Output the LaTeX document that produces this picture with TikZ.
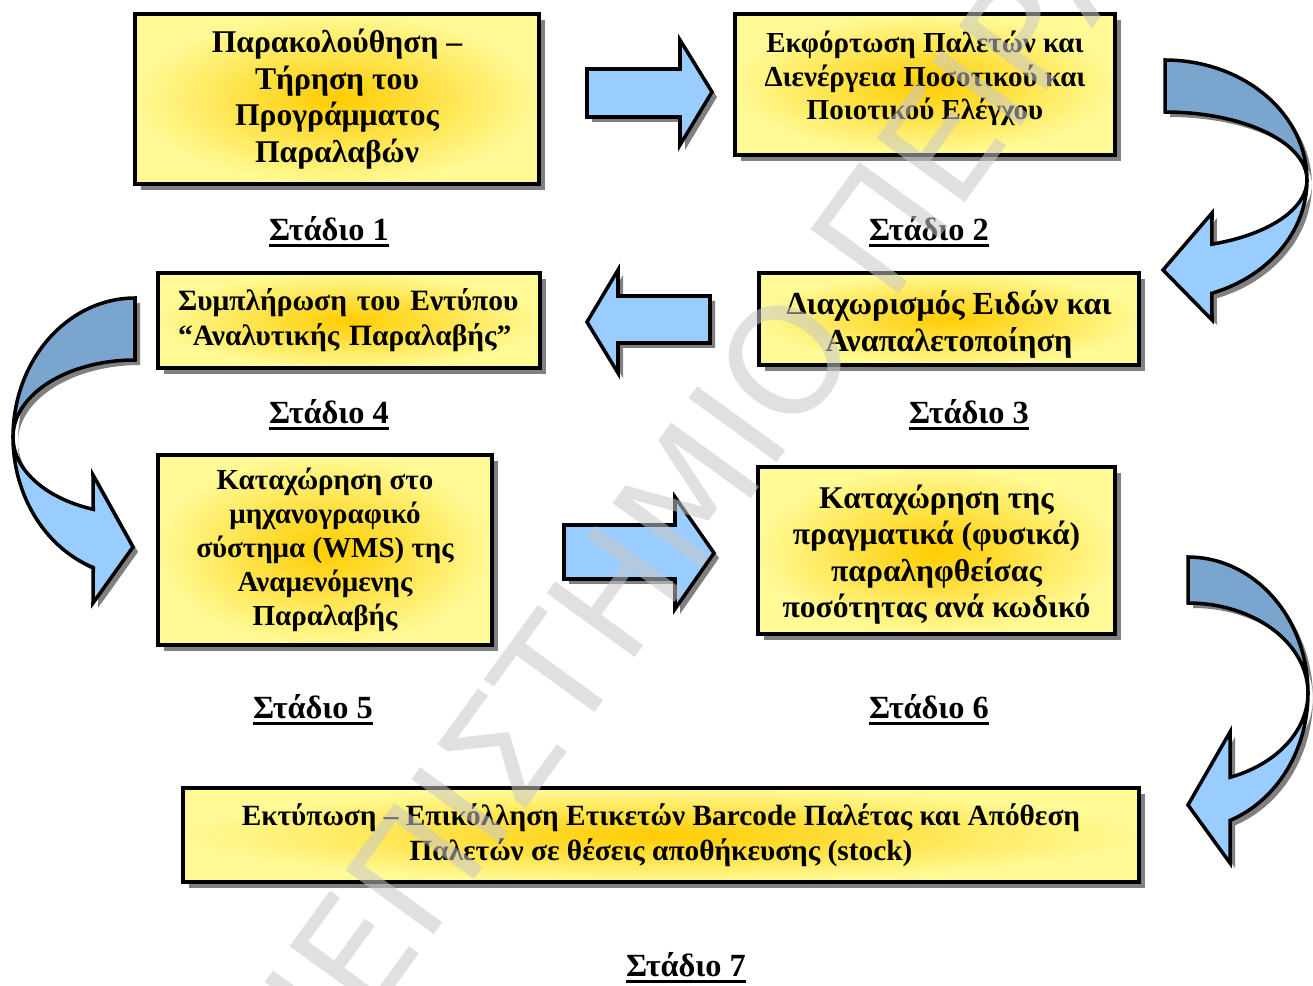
\documentclass[tikz,border=0pt]{standalone}
\usepackage{fontspec}
\setmainfont{Liberation Serif}
\newfontfamily\wmfont{DejaVu Sans}
\usetikzlibrary{shadows}

\definecolor{boxyellow}{RGB}{255,250,150}
\definecolor{boxgold}{RGB}{255,204,0}
\definecolor{arrowblue}{RGB}{153,204,255}
\definecolor{backblue}{RGB}{122,165,206}
\definecolor{wmgray}{RGB}{200,200,200}

\newcommand{\stagename}[1]{\setbox0\hbox{#1}\rlap{\rule[-3.5pt]{\wd0}{1.5pt}}\box0}

\tikzset{
  stagebox/.style={draw=black, line width=2.2pt, shading=radial, inner color=boxgold,
    outer color=boxyellow, align=center, inner sep=0pt,
    drop shadow={shadow xshift=0.12cm, shadow yshift=-0.12cm, fill=black!50, opacity=1}},
  blockarrow/.style={draw=black, line width=2pt, fill=arrowblue, line join=miter,
    drop shadow={shadow xshift=0.1cm, shadow yshift=-0.1cm, fill=black!50, opacity=1}},
  backarrow/.style={blockarrow, fill=backblue},
  stagelbl/.style={inner sep=0pt, font=\fontsize{18.4}{21}\selectfont\bfseries}
}

\begin{document}
\begin{tikzpicture}[x=0.02cm, y=-0.02cm]
  \fill[white] (0,0) rectangle (1313,986);
  \useasboundingbox (0,0) rectangle (1313,986);

  % boxes
  \node[stagebox, minimum width=8.08cm, minimum height=3.40cm,
    font=\fontsize{18}{20.8}\selectfont\bfseries] (b1) at (337,99)
    {Παρακολούθηση –\\ Τήρηση του\\ Προγράμματος\\ Παραλαβών};
  \node[stagebox, minimum width=7.60cm, minimum height=2.82cm,
    font=\fontsize{16.5}{19}\selectfont\bfseries] (b2) at (925,84.5)
    {Εκφόρτωση Παλετών και\\ Διενέργεια Ποσοτικού και\\ Ποιοτικού Ελέγχου\rule[-10.4pt]{0pt}{10.4pt}};
  \node[stagebox, minimum width=7.60cm, minimum height=1.84cm,
    font=\fontsize{18.3}{21}\selectfont\bfseries] (b3) at (949,319)
    {\rule{0pt}{20pt}Διαχωρισμός Ειδών και\\ Αναπαλετοποίηση};
  \node[stagebox, minimum width=7.64cm, minimum height=1.90cm, align=left, text width=6.84cm,
    font=\fontsize{16.8}{20}\selectfont\bfseries] (b4) at (349,320.5)
    {\makebox[\linewidth][s]{Συμπλήρωση του Εντύπου}\\ “Αναλυτικής Παραλαβής”};
  \node[stagebox, minimum width=6.68cm, minimum height=3.80cm,
    font=\fontsize{16.5}{19.3}\selectfont\bfseries] (b5) at (325,550)
    {Καταχώρηση στο\\ μηχανογραφικό\\ σύστημα (WMS) της\\ Αναμενόμενης\\ Παραλαβής};
  \node[stagebox, minimum width=7.14cm, minimum height=3.34cm,
    font=\fontsize{18}{20.8}\selectfont\bfseries] (b6) at (936.5,550.5)
    {\rule{0pt}{18pt}Καταχώρηση της\\ πραγματικά (φυσικά)\\ παραληφθείσας\\ ποσότητας ανά κωδικό};
  \node[stagebox, minimum width=19.12cm, minimum height=1.88cm,
    font=\fontsize{16.7}{20}\selectfont\bfseries] (b7) at (661,835)
    {Εκτύπωση – Επικόλληση Ετικετών Barcode Παλέτας και Απόθεση\\ Παλετών σε θέσεις αποθήκευσης (stock)};

  % stage labels
  \node[stagelbl] (s1) at (329,232) {\stagename{Στάδιο 1}};
  \node[stagelbl] (s2) at (929,232) {\stagename{Στάδιο 2}};
  \node[stagelbl] (s3) at (969,415) {\stagename{Στάδιο 3}};
  \node[stagelbl] (s4) at (329,415) {\stagename{Στάδιο 4}};
  \node[stagelbl] (s5) at (313,710) {\stagename{Στάδιο 5}};
  \node[stagelbl] (s6) at (929,710) {\stagename{Στάδιο 6}};
  \node[stagelbl] (s7) at (686,968) {\stagename{Στάδιο 7}};

  % straight arrows
  \draw[blockarrow] (587,69) -- (680,69) -- (680,40) -- (712,92) -- (680,145) -- (680,117) -- (587,117) -- cycle;
  \draw[blockarrow] (710,296) -- (618,296) -- (618,270) -- (587,322) -- (618,373) -- (618,343) -- (710,343) -- cycle;
  \draw[blockarrow] (564,525) -- (675,525) -- (675,497) -- (714,553) -- (675,609) -- (675,579) -- (564,579) -- cycle;

  % curved arrows
  \draw[backarrow] plot[domain=-90:0, samples=40] ({1165+142*cos(\x)},{180+120*sin(\x)})
    -- plot[domain=0:-90, samples=40] ({1165+142*cos(\x)},{180+68*sin(\x)}) -- cycle;
  \draw[blockarrow] plot[domain=0:70.7, samples=40] ({1165+142*cos(\x)},{180+120*sin(\x)})
    -- (1212,320) -- (1163,270) -- (1212,213)
    -- plot[domain=70.7:0, samples=40] ({1165+142*cos(\x)},{180+68*sin(\x)}) -- cycle;

  \draw[backarrow] plot[domain=270:180, samples=40] ({135+122*cos(\x)},{437+139*sin(\x)})
    -- plot[domain=180:270, samples=40] ({135+122*cos(\x)},{437+77*sin(\x)}) -- cycle;
  \draw[blockarrow] plot[domain=180:110, samples=40] ({135+122*cos(\x)},{437+139*sin(\x)})
    -- (93,603) -- (133,547) -- (93,475)
    -- plot[domain=110:180, samples=40] ({135+122*cos(\x)},{437+77*sin(\x)}) -- cycle;

  \draw[backarrow] plot[domain=-90:0, samples=40] ({1188+120*cos(\x)},{693+136*sin(\x)})
    -- plot[domain=0:-90, samples=40] ({1188+120*cos(\x)},{693+90*sin(\x)}) -- cycle;
  \draw[blockarrow] plot[domain=0:69.5, samples=40] ({1188+120*cos(\x)},{693+136*sin(\x)})
    -- (1230,863) -- (1188,805) -- (1230,732)
    -- plot[domain=69.5:0, samples=40] ({1188+120*cos(\x)},{693+90*sin(\x)}) -- cycle;

  % watermark
  \node[rotate=54, font=\wmfont\fontsize{85}{85}\selectfont, text=wmgray, text opacity=0.55] (wm)
    at (695,483) {ΠΑΝΕΠΙΣΤΗΜΙΟ ΠΕΙΡΑΙΩΣ};
\end{tikzpicture}
\end{document}
